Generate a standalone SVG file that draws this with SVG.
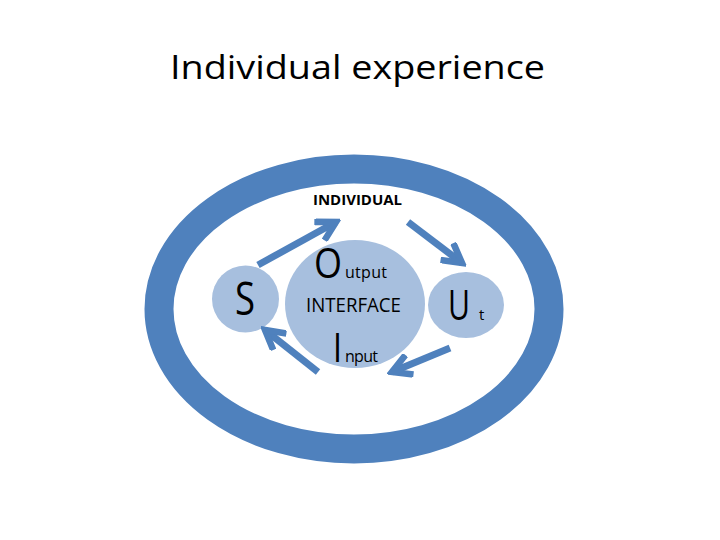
<svg xmlns="http://www.w3.org/2000/svg" width="720" height="540" viewBox="0 0 720 540">
<style>
.t{font-family:"Open Sans","Liberation Sans",sans-serif;fill:#000}
.lc{fill:#a7bfde}
.ar{fill:none;stroke:#4f81bd;stroke-width:7;stroke-linecap:butt}
</style>
<defs>
<marker id="ah" viewBox="0 0 10 10" refX="8" refY="5" markerWidth="3.6" markerHeight="3.6" orient="auto" markerUnits="strokeWidth">
<path d="M0.5,0.8 L8,5 L0.5,9.2" fill="none" stroke="#4f81bd" stroke-width="2.6"/>
</marker>
</defs>
<rect width="720" height="540" fill="#fff"/>
<text class="t" x="170" y="79" font-size="33" textLength="375" lengthAdjust="spacingAndGlyphs">Individual experience</text>
<g id="individual">
<ellipse cx="354" cy="309" rx="195" ry="140" fill="none" stroke="#4f81bd" stroke-width="29"/>
<text class="t" x="313" y="205" font-size="14" font-weight="bold" textLength="89" lengthAdjust="spacingAndGlyphs">INDIVIDUAL</text>
</g>
<g id="s">
<circle class="lc" cx="245.5" cy="299" r="33.5"/>
<text class="t" x="235" y="315" font-size="45" textLength="20" lengthAdjust="spacingAndGlyphs">S</text>
</g>
<g id="interface">
<ellipse class="lc" cx="355" cy="304" rx="70" ry="64"/>
<text class="t" x="314" y="278" font-size="42" textLength="28" lengthAdjust="spacingAndGlyphs">O</text>
<text class="t" x="345" y="278" font-size="16" textLength="42" lengthAdjust="spacing">utput</text>
<text class="t" x="306" y="312" font-size="19.5" textLength="95" lengthAdjust="spacingAndGlyphs">INTERFACE</text>
<text class="t" x="333" y="362" font-size="41" textLength="9" lengthAdjust="spacingAndGlyphs">I</text>
<text class="t" x="345" y="362" font-size="16" textLength="33" lengthAdjust="spacing">nput</text>
</g>
<g id="ut">
<ellipse class="lc" cx="466" cy="305" rx="38" ry="33"/>
<text class="t" x="448" y="320" font-size="42" textLength="22" lengthAdjust="spacingAndGlyphs">U</text>
<text class="t" x="479" y="320" font-size="15">t</text>
</g>
<g id="connectors">
<line class="ar" x1="258" y1="265" x2="336" y2="222" marker-end="url(#ah)"/>
<line class="ar" x1="408" y1="222" x2="462" y2="263" marker-end="url(#ah)"/>
<line class="ar" x1="450" y1="348" x2="392" y2="372" marker-end="url(#ah)"/>
<line class="ar" x1="318" y1="372" x2="265" y2="330" marker-end="url(#ah)"/>
</g>
</svg>
